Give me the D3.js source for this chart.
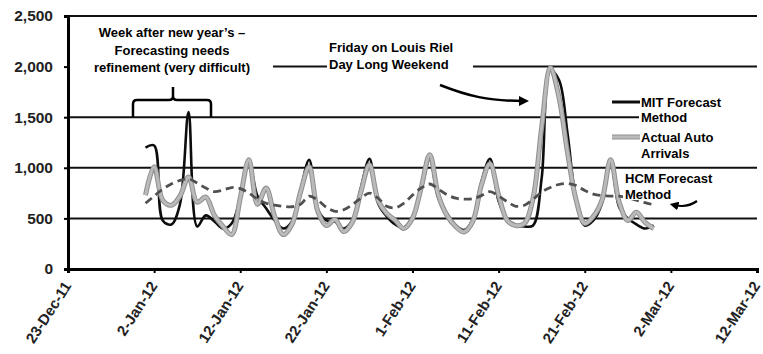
<!DOCTYPE html>
<html>
<head>
<meta charset="utf-8">
<script src="https://cdn.jsdelivr.net/npm/d3@7"></script>
<style>
  body { margin: 0; background: #fff; }
  svg text { font-family: Arial, "Liberation Sans", sans-serif; font-weight: bold; }
</style>
</head>
<body>
<div class="chart"></div>
<script>
// daily values, 1-Jan-12 .. 29-Feb-12
const firstDay = new Date(2012, 0, 1);
const mitForecast = [
  1200, 1220, 480, 440, 640, 1550, 420, 530, 470, 400,
  450, 700, 1060, 720, 600, 480, 400, 470, 780, 1080,
  590, 480, 470, 400, 480, 800, 1090, 650, 520, 440,
  410, 520, 780, 1080, 700, 550, 435, 385, 485, 860,
  1090, 670, 490, 435, 420, 430, 900, 1960, 1870, 1340,
  680, 430, 480, 650, 1080, 610, 500, 440, 400, 430
];
const actualArrivals = [
  730, 1010, 680, 630, 720, 910, 660, 710, 530, 420,
  340, 700, 1080, 640, 800, 520, 340, 440, 760, 1010,
  570, 430, 490, 370, 460, 760, 1030, 680, 550, 480,
  400, 500, 800, 1130, 730, 530, 420, 365, 470, 830,
  1040, 730, 480, 430, 450, 700, 1400, 1990, 1700, 1150,
  680, 450, 520, 680, 1080, 660, 480, 560, 460, 400
];
const hcmForecast = [
  650, 720, 790, 840, 875, 890, 850, 800, 765, 780,
  805, 795, 750, 690, 650, 630, 620, 615, 640, 720,
  680, 610, 570, 585, 635, 700, 750, 700, 620, 605,
  650, 730, 800, 840, 790, 735, 700, 690, 695, 725,
  765, 720, 665, 620, 630, 690, 760, 805, 835, 845,
  825, 775, 740, 725, 720, 720, 705, 680, 655, 635
];
const yTicks = [0, 500, 1000, 1500, 2000, 2500];
const xTickLabels = ['23-Dec-11', '2-Jan-12', '12-Jan-12', '22-Jan-12', '1-Feb-12',
  '11-Feb-12', '21-Feb-12', '2-Mar-12', '12-Mar-12'];

const w = 763;
const h = 354;
const dates = mitForecast.map((d, i) => d3.timeDay.offset(firstDay, i));
const parseTick = d3.timeParse('%d-%b-%y');
const tickDates = xTickLabels.map((s) => parseTick(s));

const xScale = d3.scaleTime()
  .domain([tickDates[0], tickDates[tickDates.length - 1]])
  .range([68, 757]);
const yScale = d3.scaleLinear().domain([0, 2500]).range([269, 16]);

const svg = d3.select('.chart').append('svg')
  .attr('width', w)
  .attr('height', h);

// gridlines
svg.append('g')
  .selectAll('line')
  .data(yTicks.slice(1))
  .enter()
  .append('line')
  .attr('x1', 68)
  .attr('x2', 757)
  .attr('y1', (d) => yScale(d))
  .attr('y2', (d) => yScale(d))
  .style('stroke', '#111')
  .style('stroke-width', 2);

// series
const line = (vals) => d3.line()
  .x((d, i) => xScale(dates[i]))
  .y((d) => yScale(d))
  .curve(d3.curveCatmullRom.alpha(0.5))(vals);

svg.append('path')
  .attr('d', line(mitForecast))
  .style('fill', 'none')
  .style('stroke', '#0d0d0d')
  .style('stroke-width', 2.6);

svg.append('path')
  .attr('d', line(actualArrivals))
  .style('fill', 'none')
  .style('stroke', '#8f8f8f')
  .style('stroke-width', 5);
svg.append('path')
  .attr('d', line(actualArrivals))
  .style('fill', 'none')
  .style('stroke', '#bababa')
  .style('stroke-width', 3);

svg.append('path')
  .attr('d', line(hcmForecast))
  .style('fill', 'none')
  .style('stroke', '#505050')
  .style('stroke-width', 2.8)
  .style('stroke-dasharray', '8,5');

// axes
const yAxis = d3.axisLeft(yScale)
  .tickValues(yTicks)
  .tickSize(4)
  .tickPadding(11)
  .tickFormat(d3.format(','));
const gy = svg.append('g')
  .attr('transform', 'translate(68,0)')
  .call(yAxis);

const xAxis = d3.axisBottom(xScale)
  .tickValues(tickDates)
  .tickSize(4)
  .tickFormat((d, i) => xTickLabels[i]);
const gx = svg.append('g')
  .attr('transform', 'translate(0,269)')
  .call(xAxis);

[gx, gy].forEach((g) => {
  g.select('.domain').style('stroke', '#000').style('stroke-width', 3);
  g.selectAll('.tick line').style('stroke', '#000').style('stroke-width', 2);
  g.selectAll('text')
    .style('font-size', '15.5px')
    .style('fill', '#222');
});
gx.selectAll('text')
  .style('font-size', '15px')
  .attr('text-anchor', 'end')
  .attr('y', 0)
  .attr('dy', '0.35em')
  .attr('transform', 'translate(-1,14) rotate(-57)');

// annotation boxes (white backgrounds hide gridlines)
svg.append('rect').attr('x', 70).attr('y', 22).attr('width', 203).attr('height', 54).style('fill', '#fff');
svg.append('rect').attr('x', 327).attr('y', 36).attr('width', 146).attr('height', 38).style('fill', '#fff');
svg.append('rect').attr('x', 639).attr('y', 93).attr('width', 118).attr('height', 67).style('fill', '#fff');
svg.append('rect').attr('x', 623).attr('y', 171).attr('width', 82).attr('height', 29).style('fill', '#fff');

const note1 = ['Week after new year\u2019s \u2013', 'Forecasting needs', 'refinement (very difficult)'];
svg.append('g')
  .selectAll('text')
  .data(note1)
  .enter()
  .append('text')
  .attr('x', 172)
  .attr('y', (d, i) => 37 + i * 17.5)
  .attr('text-anchor', 'middle')
  .style('font-size', '13px')
  .text((d) => d);

const note2 = ['Friday on Louis Riel', 'Day Long Weekend'];
svg.append('g')
  .selectAll('text')
  .data(note2)
  .enter()
  .append('text')
  .attr('x', 329)
  .attr('y', (d, i) => 52 + i * 16.5)
  .style('font-size', '13px')
  .text((d) => d);

// brace
svg.append('path')
  .attr('d', 'M133,117 L133,104 Q133,100 137,100 L169,100 Q173,100 173,96 L173,87 M173,96 Q173,100 177,100 L207,100 Q211,100 211,104 L211,117')
  .style('fill', 'none')
  .style('stroke', '#000')
  .style('stroke-width', 2.5);

// arrows
svg.append('defs').append('marker')
  .attr('id', 'head')
  .attr('viewBox', '0 0 10 10')
  .attr('refX', 5)
  .attr('refY', 5)
  .attr('markerWidth', 4)
  .attr('markerHeight', 4)
  .attr('orient', 'auto')
  .append('path')
  .attr('d', 'M0,0 L10,5 L0,10 z')
  .style('fill', '#000');

svg.append('path')
  .attr('d', 'M440,85 C468,96 488,101 524,101')
  .attr('marker-end', 'url(#head)')
  .style('fill', 'none')
  .style('stroke', '#000')
  .style('stroke-width', 2.5);

svg.append('path')
  .attr('d', 'M697,201 C690,206 682,207 674,205')
  .attr('marker-end', 'url(#head)')
  .style('fill', 'none')
  .style('stroke', '#000')
  .style('stroke-width', 2.2);

// legend
svg.append('line').attr('x1', 612).attr('x2', 640).attr('y1', 102).attr('y2', 102)
  .style('stroke', '#0d0d0d').style('stroke-width', 3);
svg.append('line').attr('x1', 612).attr('x2', 640).attr('y1', 137).attr('y2', 137)
  .style('stroke', '#8f8f8f').style('stroke-width', 5);
svg.append('line').attr('x1', 612).attr('x2', 640).attr('y1', 137).attr('y2', 137)
  .style('stroke', '#bababa').style('stroke-width', 3);

const legendText = [
  { t: 'MIT Forecast', x: 641, y: 107 },
  { t: 'Method', x: 641, y: 122 },
  { t: 'Actual Auto', x: 641, y: 142 },
  { t: 'Arrivals', x: 641, y: 158 },
  { t: 'HCM Forecast', x: 625, y: 183 },
  { t: 'Method', x: 625, y: 199 }
];
svg.append('g')
  .selectAll('text')
  .data(legendText)
  .enter()
  .append('text')
  .attr('x', (d) => d.x)
  .attr('y', (d) => d.y)
  .style('font-size', '13px')
  .text((d) => d.t);
</script>
</body>
</html>
